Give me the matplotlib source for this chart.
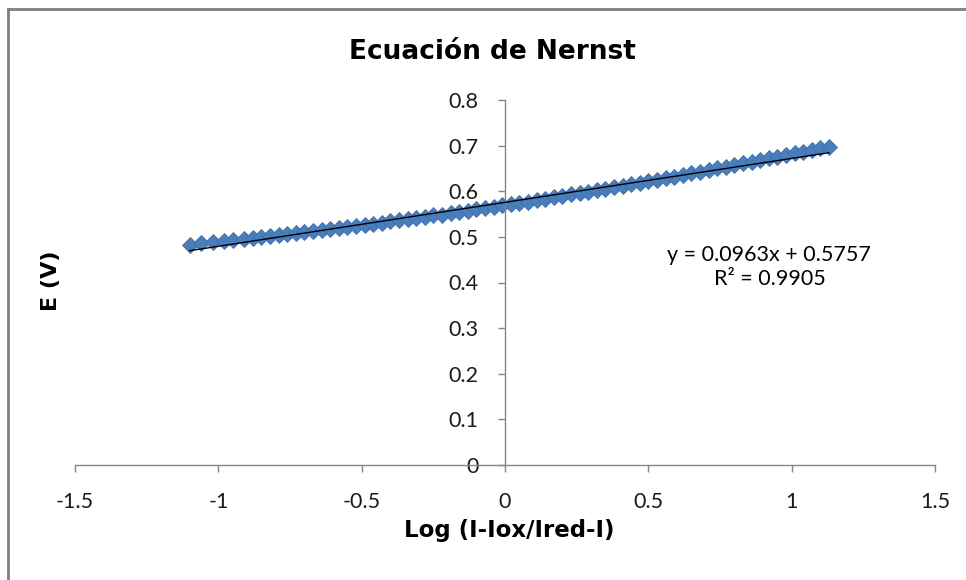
#!/usr/bin/env python3
"""Nernst equation: scatter + linear trendline, Excel style."""
import matplotlib
matplotlib.use('Agg')
import matplotlib.pyplot as plt
from matplotlib.lines import Line2D

# data
log_ratio = [-1.10, -1.06, -1.02, -0.98, -0.95, -0.91, -0.88, -0.85, -0.82, -0.79,
             -0.76, -0.73, -0.70, -0.67, -0.64, -0.61, -0.58, -0.55, -0.52, -0.49,
             -0.46, -0.43, -0.40, -0.37, -0.34, -0.31, -0.28, -0.25, -0.22, -0.19,
             -0.16, -0.13, -0.10, -0.07, -0.04, -0.01, 0.02, 0.05, 0.08, 0.11,
             0.14, 0.17, 0.20, 0.23, 0.26, 0.29, 0.32, 0.35, 0.38, 0.41,
             0.44, 0.47, 0.50, 0.53, 0.56, 0.59, 0.62, 0.65, 0.68, 0.71,
             0.74, 0.77, 0.80, 0.83, 0.86, 0.89, 0.92, 0.95, 0.98, 1.01,
             1.04, 1.07, 1.10, 1.13]
potential = [0.483, 0.486, 0.488, 0.491, 0.493, 0.495, 0.497, 0.499, 0.502, 0.504,
             0.506, 0.508, 0.510, 0.512, 0.515, 0.517, 0.519, 0.522, 0.524, 0.526,
             0.529, 0.531, 0.534, 0.536, 0.539, 0.541, 0.544, 0.547, 0.549, 0.552,
             0.555, 0.557, 0.560, 0.563, 0.566, 0.569, 0.572, 0.574, 0.577, 0.581,
             0.583, 0.587, 0.590, 0.593, 0.596, 0.599, 0.602, 0.605, 0.609, 0.612,
             0.615, 0.619, 0.622, 0.625, 0.629, 0.632, 0.636, 0.639, 0.643, 0.646,
             0.650, 0.653, 0.657, 0.661, 0.664, 0.668, 0.672, 0.676, 0.680, 0.683,
             0.687, 0.691, 0.694, 0.697]

slope = 0.0963
intercept = 0.5757
r2 = 0.9905

x_ticks = [-1.5, -1, -0.5, 0, 0.5, 1, 1.5]
x_ticklabels = ['-1.5', '-1', '-0.5', '0', '0.5', '1', '1.5']
y_ticks = [0, 0.1, 0.2, 0.3, 0.4, 0.5, 0.6, 0.7, 0.8]
y_ticklabels = ['0', '0.1', '0.2', '0.3', '0.4', '0.5', '0.6', '0.7', '0.8']

tick_font = ['Lato', 'DejaVu Sans']
axis_gray = '#868686'
W, H = 966, 580

fig = plt.figure(figsize=(W / 100, H / 100), dpi=100)
ax = fig.add_axes([75 / W, 1 - 465 / H, 860 / W, 365 / H])

ax.plot(log_ratio, potential, linestyle='none', marker='D', markersize=8,
        color='#4A7EBB', markeredgecolor='#3F6FAE', markeredgewidth=0.6, zorder=2)

x0, x1 = min(log_ratio), max(log_ratio)
ax.plot([x0, x1], [slope * x0 + intercept, slope * x1 + intercept],
        color='black', linewidth=1.0, zorder=3)

ax.set_xlim(-1.5, 1.5)
ax.set_ylim(0, 0.8)

ax.spines['left'].set_position(('data', 0))
ax.spines['bottom'].set_position(('data', 0))
ax.spines['top'].set_visible(False)
ax.spines['right'].set_visible(False)
for s in ('left', 'bottom'):
    ax.spines[s].set_color(axis_gray)
    ax.spines[s].set_linewidth(1.0)

ax.set_xticks(x_ticks)
ax.set_xticklabels(x_ticklabels, family=tick_font, fontsize=15.5, color='#1a1a1a')
ax.set_yticks(y_ticks)
ax.set_yticklabels(y_ticklabels, family=tick_font, fontsize=15.5, color='#1a1a1a')
ax.tick_params(axis='both', direction='out', length=5, width=1.0, color=axis_gray)
ax.tick_params(axis='x', pad=14.5)
ax.tick_params(axis='y', pad=14)

fig.text(492 / W, 1 - 59 / H, 'Ecuación de Nernst', ha='center', va='baseline',
         fontsize=19, fontweight='bold', family='DejaVu Sans')
fig.text(509 / W, 1 - 537 / H, 'Log (I-Iox/Ired-I)', ha='center', va='baseline',
         fontsize=16.5, fontweight='bold', family='DejaVu Sans')
fig.text(51 / W, 1 - 281 / H, 'E (V)', ha='center', va='center', rotation=90,
         fontsize=16, fontweight='bold', family='DejaVu Sans')

fig.text(769 / W, 1 - 261 / H, f'y = {slope}x + {intercept}', ha='center', va='baseline',
         fontsize=15.5, family=tick_font)
fig.text(770 / W, 1 - 285 / H, f'R\u00b2 = {r2}', ha='center', va='baseline',
         fontsize=15.5, family=tick_font)

# chart area frame (left/top edges visible in the reference)
fig.add_artist(Line2D([8 / W, 8 / W], [0, 1 - 9 / H], transform=fig.transFigure,
                      color='#7f7f7f', linewidth=2))
fig.add_artist(Line2D([8 / W, 1], [1 - 9 / H, 1 - 9 / H], transform=fig.transFigure,
                      color='#7f7f7f', linewidth=2))

fig.savefig('out.png', dpi=100, facecolor='white')
